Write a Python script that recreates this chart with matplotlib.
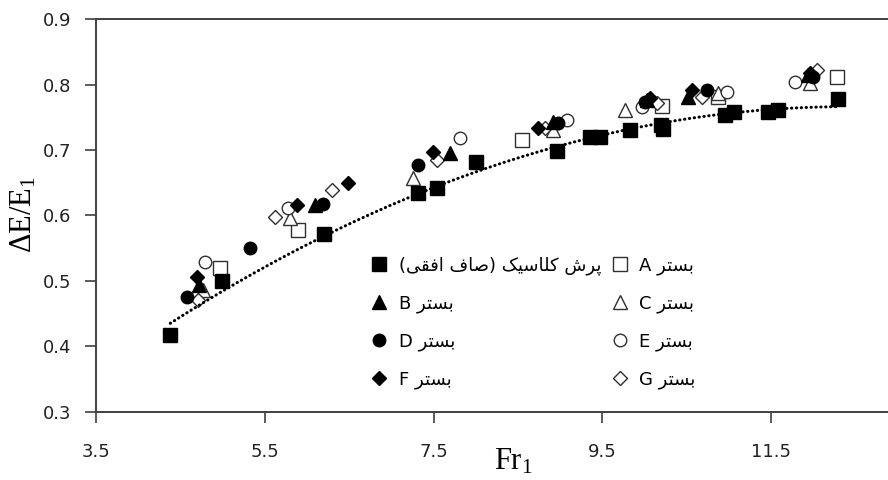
import numpy as np
import matplotlib
matplotlib.use('Agg')
import matplotlib.pyplot as plt

plt.rcParams['font.family'] = ['DejaVu Sans']

# Persian text written in visual order with presentation forms
bestar = '\uFEAE\uFE98\uFEB4\uFE91'
classic_label = ('(' + '\uFEF0\uFED8\uFED3\uFE8D' + ' ' + '\uFED1\uFE8E\uFEBB' + ') '
                 + '\uFB8F\uFEF4\uFEB3\uFE8E\uFEE0\uFB90' + ' ' + '\uFEB5\uFEAE\uFB58')

# data
classic_x = [4.38, 4.99, 6.20, 7.32, 7.54, 8.00, 8.96, 9.35, 9.47, 9.83, 10.19, 10.22, 10.95, 11.06, 11.46, 11.58, 12.29]
classic_y = [0.418, 0.500, 0.572, 0.634, 0.642, 0.682, 0.698, 0.720, 0.720, 0.731, 0.738, 0.732, 0.753, 0.758, 0.758, 0.761, 0.778]

a_x = [4.97, 5.89, 8.55, 10.21, 10.87, 12.28]
a_y = [0.520, 0.578, 0.715, 0.767, 0.781, 0.811]
b_x = [4.72, 6.10, 7.69, 8.92, 10.03, 10.51, 11.94]
b_y = [0.494, 0.616, 0.695, 0.743, 0.776, 0.781, 0.815]
c_x = [4.77, 5.80, 7.26, 8.92, 9.77, 10.87, 11.96]
c_y = [0.486, 0.596, 0.657, 0.730, 0.761, 0.787, 0.802]
d_x = [4.58, 5.33, 6.19, 7.32, 8.97, 10.01, 10.74, 12.00]
d_y = [0.476, 0.550, 0.617, 0.677, 0.741, 0.773, 0.792, 0.811]
e_x = [4.79, 5.78, 7.81, 9.08, 9.97, 10.98, 11.78]
e_y = [0.529, 0.611, 0.718, 0.746, 0.766, 0.789, 0.804]
f_x = [4.70, 5.88, 6.49, 7.49, 8.74, 10.06, 10.56, 11.96]
f_y = [0.506, 0.616, 0.650, 0.697, 0.734, 0.779, 0.792, 0.818]
g_x = [4.71, 5.62, 6.30, 7.54, 8.82, 10.15, 10.68, 12.04]
g_y = [0.471, 0.598, 0.639, 0.685, 0.734, 0.772, 0.781, 0.822]

fig = plt.figure(figsize=(8.88, 4.8), dpi=100)
ax = fig.add_axes([0.1081, 0.1417, 0.8919, 0.8187])

grey = '#404040'
open_kw = dict(linestyle='none', markerfacecolor='white', markeredgecolor='#303030', markeredgewidth=1.0)
fill_kw = dict(linestyle='none', color='black')

ax.plot(a_x, a_y, marker='s', markersize=9.5, label='A ' + bestar, **open_kw)
ax.plot(c_x, c_y, marker='^', markersize=10, label='C ' + bestar, **open_kw)
ax.plot(e_x, e_y, marker='o', markersize=9, label='E ' + bestar, **open_kw)
ax.plot(g_x, g_y, marker='D', markersize=7.5, label='G ' + bestar, **open_kw)
ax.plot(b_x, b_y, marker='^', markersize=10, label='B ' + bestar, **fill_kw)
ax.plot(d_x, d_y, marker='o', markersize=9, label='D ' + bestar, **fill_kw)
ax.plot(f_x, f_y, marker='D', markersize=7.5, label='F ' + bestar, **fill_kw)
ax.plot(classic_x, classic_y, marker='s', markersize=9.5, label=classic_label, **fill_kw)

# trend line fitted to the classic jump data
coef = np.polyfit(classic_x, classic_y, 2)
xt = np.linspace(min(classic_x), max(classic_x), 200)
ax.plot(xt, np.polyval(coef, xt), color='black', linewidth=2.2,
        linestyle=(0, (0.1, 1.5)), dash_capstyle='round', zorder=5)

ax.set_xlim(3.5, 3.5 + 792 / 84.4)
ax.set_ylim(0.3, 0.9)
ax.set_xticks([3.5, 5.5, 7.5, 9.5, 11.5])
ax.set_xticklabels(['3.5', '5.5', '7.5', '9.5', '11.5'])
ax.set_yticks([0.3, 0.4, 0.5, 0.6, 0.7, 0.8, 0.9])
ax.set_yticklabels(['0.3', '0.4', '0.5', '0.6', '0.7', '0.8', '0.9'])
ax.tick_params(direction='out', length=8, width=1.2, color=grey, labelsize=13,
               labelcolor='#222222', pad=10)
ax.tick_params(axis='x', pad=14)
for s in ['left', 'bottom', 'top']:
    ax.spines[s].set_color(grey)
    ax.spines[s].set_linewidth(1.4)
ax.spines['right'].set_visible(False)

# axis titles
fig.text(513 / 888, 1 - 470 / 480, r'$\mathregular{Fr_1}$', family='Liberation Serif',
         fontsize=22, ha='center', va='baseline')
fig.text(24 / 888, 1 - 215 / 480, r'$\mathregular{\Delta E/E_1}$', family='Liberation Serif',
         fontsize=22, ha='center', va='center', rotation=90)

handles, labels = ax.get_legend_handles_labels()
order = [7, 4, 5, 6, 0, 1, 2, 3]
ax.legend([handles[i] for i in order], [labels[i] for i in order], ncol=2, frameon=False,
          fontsize=13, loc='upper left', bbox_to_anchor=(354 / 888, 1 - 240 / 480),
          bbox_transform=fig.transFigure, numpoints=1, handlelength=1.0,
          handletextpad=0.6, columnspacing=0.5, labelspacing=1.08)

fig.savefig('out.png', dpi=100)
